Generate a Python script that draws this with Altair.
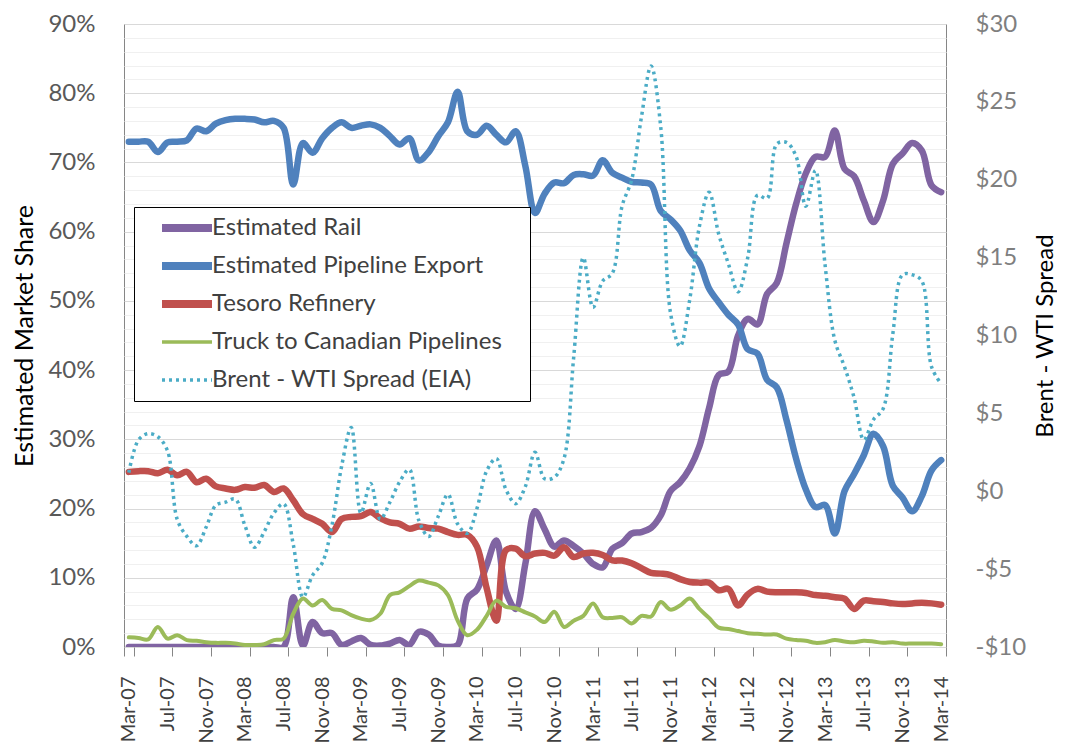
import altair as alt
import pandas as pd

# ---- categories -------------------------------------------------------------
MONTHS = pd.date_range("2007-03-01", "2014-03-01", freq="MS").strftime("%b-%y").tolist()
TICK_LABELS = MONTHS[::4]

SERIES = [
    "Estimated Rail",
    "Estimated Pipeline Export",
    "Tesoro Refinery",
    "Truck to Canadian Pipelines",
    "Brent - WTI Spread (EIA)",
]
COLORS = ["#8064A2", "#4F81BD", "#C0504D", "#9BBB59", "#4BACC6"]

# ---- series values (monthly, Mar-07 .. Mar-14) ------------------------------
RAIL = [0, 0, 0, 0, 0, 0, 0, 0, 0, 0, 0, 0, 0, 0, 0, 0, 0,
        7.2, 0.2, 3.6, 2.0, 2.0, 0.3, 0.8, 1.3, 0.3, 0.2, 0.5, 1.0, 0.3, 2.2, 1.8,
        0.2, 0.0, 0.3, 7.0, 8.3, 11.8, 15.4, 8.0, 5.5, 12.0, 19.6, 17.0, 14.5, 15.4,
        14.6, 13.5, 12.0, 11.5, 14.2, 15.0, 16.4, 16.6, 17.2, 19.0, 22.5, 23.8, 25.8,
        29.0, 34.5, 39.3, 39.8, 45.0, 47.4, 46.6, 51.0, 52.6, 58.3, 64.0, 68.4, 70.8,
        70.8, 74.6, 69.1, 68.0, 64.5, 61.4, 64.5, 69.8, 71.3, 72.8, 71.7, 66.7, 65.7]

PIPELINE = [73.0, 73.0, 73.0, 71.5, 72.9, 73.0, 73.2, 74.9, 74.5, 75.6, 76.1, 76.3,
            76.3, 76.2, 75.8, 76.0, 75.0, 66.8, 72.8, 71.4, 73.5, 75.0, 75.8, 75.0,
            75.3, 75.5, 75.0, 73.8, 72.6, 73.5, 70.3, 71.5, 73.8, 75.8, 80.2, 74.5,
            74.0, 75.3, 74.0, 72.9, 74.5, 69.5, 62.7, 65.5, 67.1, 67.0, 68.2, 68.3,
            68.1, 70.3, 68.5, 67.8, 67.2, 67.1, 66.8, 63.0, 61.8, 60.2, 57.3, 55.5,
            51.8, 49.8, 48.0, 46.6, 43.0, 42.4, 38.6, 37.5, 32.8, 27.2, 22.8, 20.2,
            20.5, 16.4, 22.5, 25.0, 27.7, 30.8, 29.0, 23.3, 21.6, 19.6, 21.8, 25.5, 27.0]

TESORO = [25.3, 25.4, 25.4, 25.1, 25.6, 24.8, 25.3, 23.8, 24.3, 23.2, 22.9, 22.7,
          23.1, 23.0, 23.4, 22.4, 22.9, 21.2, 19.2, 18.5, 17.8, 16.6, 18.5, 18.8,
          18.9, 19.5, 18.6, 18.0, 17.8, 17.1, 17.4, 17.2, 17.1, 16.6, 16.2, 16.2,
          14.5, 8.5, 3.8, 14.0, 14.2, 13.1, 13.5, 13.6, 13.2, 14.4, 13.0, 13.5,
          13.6, 13.3, 12.5, 12.5, 12.1, 11.4, 10.7, 10.6, 10.4, 9.8, 9.4, 9.3,
          9.3, 8.2, 8.4, 6.0, 7.6, 8.4, 8.0, 7.9, 7.9, 7.9, 7.8, 7.5,
          7.4, 7.2, 7.0, 5.5, 6.7, 6.6, 6.5, 6.3, 6.2, 6.3, 6.4, 6.3, 6.1]

TRUCK = [1.4, 1.3, 1.1, 2.9, 1.2, 1.7, 1.0, 0.9, 0.7, 0.6, 0.6, 0.5,
         0.3, 0.3, 0.4, 1.0, 1.2, 4.8, 7.0, 6.0, 6.8, 5.5, 5.3, 4.6,
         4.1, 3.9, 4.8, 7.5, 7.9, 8.8, 9.6, 9.3, 8.9, 7.5, 3.8, 1.7,
         2.5, 4.5, 6.7, 5.8, 5.6, 5.0, 4.4, 3.6, 5.1, 2.9, 3.8, 4.5,
         6.3, 4.3, 4.2, 4.3, 3.4, 4.5, 4.4, 6.5, 5.4, 6.0, 7.0, 5.5,
         4.2, 2.8, 2.6, 2.3, 2.0, 1.9, 1.8, 1.8, 1.2, 1.0, 0.9, 0.6,
         0.7, 1.0, 0.8, 0.7, 0.9, 0.8, 0.6, 0.7, 0.5, 0.5, 0.5, 0.5, 0.4]

SPREAD = [1.2, 3.3, 3.7, 3.5, 2.6, -1.8, -2.9, -3.5, -2.3, -0.9, -0.7, -0.5,
          -2.2, -3.6, -2.6, -1.4, -0.8, -3.4, -6.8, -5.4, -4.6, -2.2, 1.6, 4.1,
          -1.4, 0.5, -1.8, -0.7, 0.6, 1.4, -1.9, -2.9, -1.6, -0.2, -2.1, -2.7,
          -1.1, 1.3, 2.1, 0.1, -0.8, 0.3, 2.5, 0.8, 0.9, 2.1, 8.6, 15.0,
          11.8, 13.5, 14.0, 18.3, 20.0, 24.0, 27.3, 23.4, 11.5, 9.3, 12.3, 17.0,
          19.2, 16.5, 14.6, 12.8, 15.0, 19.0, 18.8, 22.3, 22.4, 21.5, 18.3, 20.6,
          14.5, 9.7, 8.0, 6.0, 3.3, 4.6, 5.3, 10.1, 13.9, 13.9, 13.5, 8.0, 6.9]

# ---- tables -------------------------------------------------------------------
rows = []
for name, vals in zip(SERIES[:4], [RAIL, PIPELINE, TESORO, TRUCK]):
    for m, v in zip(MONTHS, vals):
        rows.append({"month": m, "series": name, "value": v})
shares = pd.DataFrame(rows)
spread = pd.DataFrame({"month": MONTHS, "series": SERIES[4], "spread": SPREAD})

# ---- shared encodings -------------------------------------------------------
x_enc = alt.X(
    "month:O",
    sort=MONTHS,
    scale=alt.Scale(type="band", domain=MONTHS, paddingInner=0, paddingOuter=0),
    axis=alt.Axis(
        values=TICK_LABELS, tickBand="extent", labelAngle=270, labelFontSize=20,
        labelColor="#404040", labelPadding=20, tickSize=9, tickColor="#868686",
        domain=False, grid=False, labelOverlap=False,
    ),
    title=None,
)

THIN = "datum.value === 'Truck to Canadian Pipelines' || datum.value === 'Brent - WTI Spread (EIA)'"
legend = alt.Legend(
    title=None, orient="none", legendX=10, legendY=183,
    fillColor="#ffffff", strokeColor="#000000", padding=4,
    symbolType="stroke", symbolSize=2500, symbolOffset=37, labelOffset=13,
    clipHeight=34, rowPadding=4, labelFontSize=24, labelColor="#404040",
    labelLimit=500,
    symbolStrokeWidth={"expr": "(" + THIN + ") ? 3.5 : 8"},
    symbolDash={"expr": "datum.value === 'Brent - WTI Spread (EIA)' ? [3, 4] : [1, 0]"},
    labelExpr="datum.label + '\u00a0\u2800'",
)
color_enc = alt.Color("series:N", scale=alt.Scale(domain=SERIES, range=COLORS), legend=legend)

y_left = alt.Y(
    "value:Q",
    scale=alt.Scale(domain=[0, 90], nice=False),
    axis=alt.Axis(
        values=list(range(0, 91, 2)),
        labelExpr="datum.value % 10 === 0 ? datum.value + '%' : ''",
        gridColor={"condition": {"test": "datum.value % 10 === 0", "value": "#d9d9d9"}, "value": "#f0f0f0"},
        ticks=False, domain=False, labelPadding=29, labelFontSize=24, labelColor="#595959",
        labelOverlap=False, titleFontSize=25, titleColor="#000000", titleFontWeight="normal",
        titlePadding=10,
    ),
    title="Estimated Market Share",
)

y_right = alt.Y(
    "spread:Q",
    scale=alt.Scale(domain=[-10, 30], nice=False),
    axis=alt.Axis(
        orient="right", values=list(range(-10, 31, 5)),
        labelExpr="(datum.value < 0 ? '-$' : '$') + abs(datum.value)",
        grid=False, ticks=False, domain=False, labelPadding=29, labelFontSize=24,
        labelColor="#7f7f7f", labelOverlap=False, titleFontSize=24, titleColor="#000000",
        titleFontWeight="normal", titleAngle=270, titleBaseline="top", titlePadding=8,
    ),
    title="Brent - WTI Spread",
)

share_lines = alt.Chart(shares).mark_line(
    interpolate="catmull-rom", clip=True, strokeCap="round", strokeJoin="round"
).encode(
    x=x_enc,
    y=y_left,
    color=color_enc,
    strokeWidth=alt.condition("datum.series === 'Truck to Canadian Pipelines'", alt.value(4), alt.value(6.5)),
)

spread_line = alt.Chart(spread).mark_line(
    interpolate="catmull-rom", clip=True
).encode(
    x=x_enc,
    y=y_right,
    color=color_enc,
    strokeWidth=alt.value(3.5),
    strokeDash=alt.value([3, 4]),
)

chart = (
    alt.layer(share_lines, spread_line)
    .resolve_scale(y="independent")
    .properties(
        width=822, height=623,
        padding={"left": 116, "top": 16, "right": 111, "bottom": 99},
        autosize=alt.AutoSizeParams(type="none"),
        background="#ffffff",
    )
    .configure(font="Lato")
    .configure_view(stroke="#868686", strokeWidth=1)
)

chart.save("out.html", embed_options={"renderer": "svg", "actions": False})
